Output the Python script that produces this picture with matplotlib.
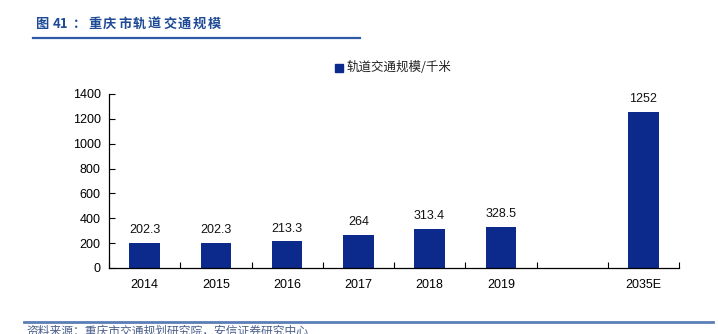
import matplotlib
matplotlib.use("Agg")
import matplotlib.pyplot as plt
from matplotlib.lines import Line2D

categories = ["2014", "2015", "2016", "2017", "2018", "2019", "", "2035E"]
values = [202.3, 202.3, 213.3, 264, 313.4, 328.5, None, 1252]
labels = ["202.3", "202.3", "213.3", "264", "313.4", "328.5", "", "1252"]
yticks = [0, 200, 400, 600, 800, 1000, 1200, 1400]
legend_label = "轨道交通规模/千米"
title_chars = ["图", "41", "：", "重", "庆", "市", "轨", "道", "交", "通", "规", "模"]
source = "资料来源：重庆市交通规划研究院，安信证券研究中心"

W, H = 718, 334
fig = plt.figure(figsize=(W / 100, H / 100), dpi=100)
plt.rcParams['font.family'] = ['Liberation Sans', 'Noto Sans CJK SC', 'DejaVu Sans']

def fx(px):
    return px / W

def fy(py):
    return 1 - py / H

ax = fig.add_axes([fx(109), fy(268), fx(679) - fx(109), fy(94) - fy(268)])
bar_color = "#0C2A8C"
xs = list(range(len(categories)))
for i, v in enumerate(values):
    if v is None:
        continue
    ax.bar(i, v, width=0.43, color=bar_color, zorder=2)
    ax.annotate(labels[i], (i, v), xytext=(0, 5), textcoords="offset points",
                ha="center", va="bottom", fontsize=9, color="#111111")

ax.set_xlim(-0.5, len(categories) - 0.5)
ax.set_ylim(0, 1400)
ax.set_yticks(yticks)
ax.set_yticklabels([str(t) for t in yticks], fontsize=9)
ax.set_xticks(xs)
ax.set_xticklabels(categories, fontsize=9)
ax.tick_params(axis='x', length=0, pad=8)
ax.set_xticks([i - 0.5 for i in range(len(categories) + 1)], minor=True)
ax.tick_params(axis='x', which='minor', direction='in', length=4, width=0.8)
ax.tick_params(axis='y', direction='in', length=4, width=0.8, pad=6)
for s in ["top", "right"]:
    ax.spines[s].set_visible(False)
for s in ["left", "bottom"]:
    ax.spines[s].set_linewidth(0.9)
    ax.spines[s].set_color("#000000")

# legend
fig.patches.append(plt.Rectangle((fx(335), fy(72)), fx(8), 8 / H, transform=fig.transFigure,
                                 color=bar_color, figure=fig))
fig.text(fx(346), fy(67), legend_label, fontsize=9, va="center", ha="left",
         family=['Noto Sans CJK SC', 'DejaVu Sans'], color="#222222")

# title
title_color = "#1F4A96"
positions = [35, 53, 73, 88, 103, 118, 133, 148, 163, 178, 193, 208]
for ch, px in zip(title_chars, positions):
    fig.text(fx(px), fy(24), ch, fontsize=9.5, fontweight='bold', color=title_color,
             va="center", ha="left", family=['Noto Sans CJK SC', 'DejaVu Sans'])
fig.add_artist(Line2D([fx(33), fx(360)], [fy(38), fy(38)], transform=fig.transFigure,
                      color="#2F5AA8", linewidth=1.6))

# bottom line and source
fig.add_artist(Line2D([fx(24), fx(713)], [fy(322), fy(322)], transform=fig.transFigure,
                      color="#5B7DB8", linewidth=2))
fig.text(fx(26), fy(325), source, fontsize=8.5, color="#4A5F8A", va="top", ha="left",
         style='italic', family=['Noto Sans CJK SC', 'DejaVu Sans'])

fig.savefig("out.png", dpi=100)
